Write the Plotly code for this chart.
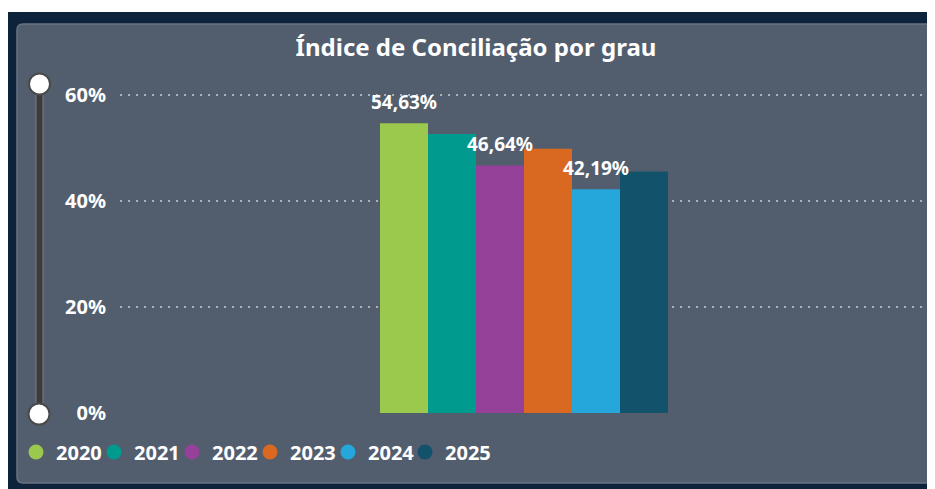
import plotly.graph_objects as go

years = ["2020", "2021", "2022", "2023", "2024", "2025"]
values = [54.63, 52.6, 46.64, 49.8, 42.19, 45.5]
labels = ["54,63%", "", "46,64%", "", "42,19%", ""]
colors = ["#9bc94d", "#009a8f", "#954199", "#d96820", "#25a7dc", "#12526b"]
tick_vals = [0, 20, 40, 60]
tick_text = ["0%", "20%", "40%", "60%"]
title_text = "Índice de Conciliação por grau"

OFF = 8  # page body margin
W, H = 927, 481
# plot area in page coords: x 120..922, y 92..413
L, R, T, B = 120 - OFF, W - (922 - OFF), 92 - OFF, H - (413 - OFF)
PW, PH = W - L - R, H - T - B

def px(x):  # page x -> paper
    return (x - OFF - L) / PW

def py(y):  # page y -> paper
    return (H - B - (y - OFF)) / PH

FONT = "Noto Sans"
n = len(years)
slot = [i - n / 2 for i in range(n)]          # left offset of each bar (unit width)
centers = [s + 0.5 for s in slot]

fig = go.Figure()
for yr, v, c, s in zip(years, values, colors, slot):
    fig.add_trace(go.Bar(
        x=[0], y=[v], name=yr, width=[1], offset=s,
        marker=dict(color=c, line=dict(width=0)),
        showlegend=False, hoverinfo="skip",
    ))

# value labels on top of all bars
fig.add_trace(go.Scatter(
    x=centers, y=values, mode="markers+text", text=labels,
    textposition="top center", cliponaxis=False,
    marker=dict(size=14, opacity=0),
    textfont=dict(family=FONT, size=19, color="white", weight="bold"),
    showlegend=False, hoverinfo="skip",
))

marker_centers = [36, 114, 192, 270, 348, 425]
legend_cfg = {}
for i, (yr, c) in enumerate(zip(years, colors)):
    lname = "legend" if i == 0 else f"legend{i + 1}"
    fig.add_trace(go.Scatter(
        x=[None], y=[None], mode="markers", name=yr, legend=lname,
        marker=dict(symbol="circle", size=15, color=c),
    ))
    legend_cfg[lname] = dict(
        orientation="h", xref="container", yref="container",
        x=(marker_centers[i] - OFF - 20) / W, xanchor="left",
        y=1 - (452 - OFF) / H, yanchor="middle",
        font=dict(family=FONT, size=20, color="white", weight="bold"),
        bgcolor="rgba(0,0,0,0)", borderwidth=0,
    )

# panel (rounded rect) path in paper coords
x0, x1, y0, y1, r = 17, 932, 24, 483, 6
def P(x, y):
    return f"{px(x):.5f},{py(y):.5f}"
path = (f"M {P(x0 + r, y0)} L {P(x1 - r, y0)} Q {P(x1, y0)} {P(x1, y0 + r)} "
        f"L {P(x1, y1 - r)} Q {P(x1, y1)} {P(x1 - r, y1)} L {P(x0 + r, y1)} "
        f"Q {P(x0, y1)} {P(x0, y1 - r)} L {P(x0, y0 + r)} Q {P(x0, y0)} {P(x0 + r, y0)} Z")

shapes = [
    dict(type="rect", xref="paper", yref="paper", x0=px(0), x1=px(940), y0=py(0), y1=py(12),
         fillcolor="white", line=dict(width=0), layer="below"),
    dict(type="path", xref="paper", yref="paper", path=path,
         fillcolor="#525e6e", line=dict(color="#6a7483", width=1.5), layer="below"),
    # slider track
    dict(type="rect", xref="paper", yref="paper", x0=px(36), x1=px(43), y0=py(84), y1=py(414),
         fillcolor="#3b3b3b", line=dict(color="#7a7f86", width=1), layer="above"),
    dict(type="circle", xref="paper", yref="paper", x0=px(29), x1=px(50), y0=py(73.5), y1=py(94.5),
         fillcolor="white", line=dict(color="#4a4a4a", width=2), layer="above"),
    dict(type="circle", xref="paper", yref="paper", x0=px(28.5), x1=px(49.5), y0=py(403.5), y1=py(424.5),
         fillcolor="white", line=dict(color="#4a4a4a", width=2), layer="above"),
]

# x range so that the bar group spans page x 380..668 (48 px per bar)
bar_px = 48
x_lo = slot[0] - (380 - 120) / bar_px
x_hi = x_lo + PW / bar_px

fig.update_layout(
    width=W, height=H,
    margin=dict(l=L, r=R, t=T, b=B, autoexpand=False),
    paper_bgcolor="#0c233b", plot_bgcolor="rgba(0,0,0,0)",
    barmode="overlay",
    title=dict(text=title_text, xref="container", yref="container",
               x=(476 - OFF) / W, xanchor="center", y=1 - (48 - OFF) / H, yanchor="middle",
               font=dict(family=FONT, size=24, color="white", weight="bold")),
    xaxis=dict(visible=False, range=[x_lo, x_hi]),
    yaxis=dict(range=[0, 60.5], tickvals=tick_vals, ticktext=tick_text,
               showgrid=True, gridcolor="#aab1bb", gridwidth=1.5, griddash="2px,6px",
               zeroline=False, showline=False, ticks="outside", ticklen=9,
               tickcolor="rgba(0,0,0,0)",
               tickfont=dict(family=FONT, size=20, color="white", weight="bold")),
    shapes=shapes,
    showlegend=True,
    **legend_cfg,
)

fig.write_html("out.html")
